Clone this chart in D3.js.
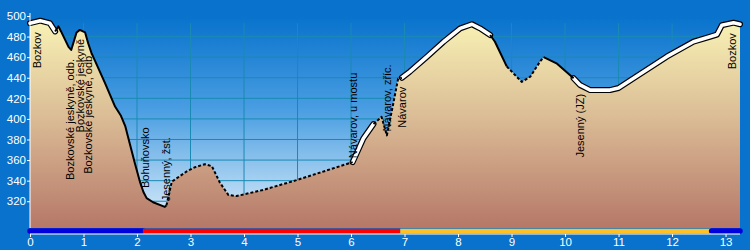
<!DOCTYPE html>
<html>
<head>
<meta charset="utf-8">
<script src="https://d3js.org/d3.v7.min.js"></script>
<style>
    body { margin: 0; background: #0872cc; }
    svg text { font-family: Arial, "Liberation Sans", sans-serif; }
</style>
</head>
<body>
<svg id="chart" width="750" height="250"></svg>
<script>
    // profile: distance in km and elevation in m
    const kms   = [0, 0.19, 0.37, 0.47, 0.53, 0.58, 0.72, 0.77, 0.87, 0.93, 1.03, 1.09, 1.15, 1.40, 1.59, 1.70, 1.78, 1.87, 1.96, 2.06, 2.12, 2.18, 2.30, 2.52,
                   2.55, 2.65, 2.93, 3.08, 3.27, 3.40, 3.55, 3.71, 3.86, 4.36, 4.98, 5.55, 6.03, 6.23, 6.42, 6.57, 6.67, 6.79, 6.88, 6.95,
                   7.10, 7.41, 7.73, 8.04, 8.26, 8.41, 8.60, 8.69, 8.91, 9.19, 9.35, 9.53, 9.60, 9.84, 10.16, 10.28, 10.47, 10.84, 11.0,
                   11.28, 11.9, 12.4, 12.72, 12.84, 12.93, 13.15, 13.27];
    const elevs = [493, 495.5, 493, 485, 490, 485, 470, 467, 484, 486.5, 484, 473, 464, 435, 412, 403, 393, 375, 357, 338, 329, 323, 319, 314.5,
                   316, 339, 349, 353, 356, 354, 338, 326, 325, 331, 340.5, 350, 358, 381, 395, 402, 384, 415, 439, 440,
                   446, 460, 475, 488, 492, 488, 481.5, 475, 451, 436, 441, 455.5, 460, 454, 439.5, 433, 428, 428, 430,
                   439.5, 460.5, 475, 480, 482, 491, 493.5, 492];

    // line type of each stretch (from km, to km)
    const segFrom = [0, 0.47, 2.55, 6.03, 6.42, 6.95, 8.60, 8.91, 9.60, 10.16];
    const segTo   = [0.47, 2.55, 6.03, 6.42, 6.95, 8.60, 8.91, 9.60, 10.16, 13.27];
    const segType = ["road", "path", "dash", "road", "dash", "road", "path", "dash", "path", "road"];

    // surface bar under the profile
    const barFrom  = [0, 2.11, 6.92, 12.74];
    const barTo    = [2.11, 6.92, 12.74, 13.27];
    const barColor = ["#0000dc", "#ff0000", "#ffc125", "#0000dc"];

    // waypoints
    const wpKm   = [0, 0.75, 0.93, 1.08, 2.15, 2.54, 6.04, 6.67, 6.95, 10.28, 13.27];
    const wpName = ["Bozkov", "Bozkovské jeskyně, odb.", "Bozkovské jeskyně", "Bozkovské jeskyně, odb.", "Bohuňovsko",
                    "Jesenný, žst.", "Návarov, u mostu", "Návarov, zříc.", "Návarov", "Jesenný (JZ)", "Bozkov"];

    const xTicks = d3.range(0, 14);
    const yTicks = [320, 340, 360, 380, 400, 420, 440, 460, 480, 500];

    var svg = d3.select("#chart");
    var x = d3.scaleLinear([0, 13.27], [30, 740]);
    var y = d3.scaleLinear([294, 500], [228, 16]);
    var pts = kms.map((k, i) => ({km: k, ele: elevs[i]}));

    var defs = svg.append("defs");
    var sky = defs.append("linearGradient").attr("id", "sky")
        .attr("gradientUnits", "userSpaceOnUse").attr("x1", 0).attr("x2", 0).attr("y1", y(500)).attr("y2", y(294));
    sky.append("stop").attr("offset", 0).attr("stop-color", "#0872cc");
    sky.append("stop").attr("offset", 0.45).attr("stop-color", "#4b9fe2");
    sky.append("stop").attr("offset", 1).attr("stop-color", "#e4f1fb");
    var ground = defs.append("linearGradient").attr("id", "ground")
        .attr("gradientUnits", "userSpaceOnUse").attr("x1", 0).attr("x2", 0).attr("y1", y(500)).attr("y2", y(294));
    ground.append("stop").attr("offset", 0).attr("stop-color", "#faf5b6");
    ground.append("stop").attr("offset", 0.5).attr("stop-color", "#d9b994");
    ground.append("stop").attr("offset", 1).attr("stop-color", "#b67868");

    svg.append("rect").attr("width", 750).attr("height", 250).attr("fill", "#0872cc");
    svg.append("rect")
        .attr("x", x(0)).attr("y", y(500))
        .attr("width", x(13.27) - x(0)).attr("height", y(294) - y(500))
        .attr("fill", "url(#sky)");

    // grid
    svg.append("g").selectAll("line")
        .data(yTicks.filter(v => v < 500))
        .join("line")
        .attr("x1", x(0)).attr("x2", x(13.27))
        .attr("y1", d => y(d)).attr("y2", d => y(d))
        .attr("stroke", "#1a8ab4").attr("stroke-width", 1);
    svg.append("g").selectAll("line")
        .data(xTicks.filter(v => v > 0))
        .join("line")
        .attr("x1", d => x(d)).attr("x2", d => x(d))
        .attr("y1", y(493)).attr("y2", y(294))
        .attr("stroke", "#1a8ab4").attr("stroke-width", 1);

    // terrain
    var area = d3.area().x(d => x(d.km)).y0(y(294)).y1(d => y(d.ele));
    svg.append("path").datum(pts).attr("d", area).attr("fill", "url(#ground)");

    var line = d3.line().x(d => x(d.km)).y(d => y(d.ele));
    var segs = segFrom.map((f, i) => ({type: segType[i], pts: pts.filter(p => p.km >= f && p.km <= segTo[i])}));

    var g = svg.append("g").attr("fill", "none").attr("stroke-linejoin", "round");
    segs.filter(s => s.type == "road").forEach(s => {
        g.append("path").attr("d", line(s.pts)).attr("stroke", "#000").attr("stroke-width", 6).attr("stroke-linecap", "round");
    });
    segs.filter(s => s.type == "road").forEach(s => {
        g.append("path").attr("d", line(s.pts)).attr("stroke", "#fff").attr("stroke-width", 3.6).attr("stroke-linecap", "round");
    });
    segs.filter(s => s.type != "road").forEach(s => {
        g.append("path").attr("d", line(s.pts)).attr("stroke", "#000").attr("stroke-width", 2)
            .attr("stroke-dasharray", s.type == "dash" ? "3,2" : null);
    });

    // surface bar
    svg.append("g").selectAll("line")
        .data(barFrom.map((f, i) => ({from: f, to: barTo[i], c: barColor[i]})))
        .join("line")
        .attr("x1", d => x(d.from)).attr("x2", d => x(d.to))
        .attr("y1", 231).attr("y2", 231)
        .attr("stroke", d => d.c)
        .attr("stroke-width", d => d.c == "#0000dc" ? 5.5 : 4.5)
        .attr("stroke-linecap", d => d.c == "#0000dc" ? "round" : "butt");

    // axes
    var xAxis = svg.append("g").attr("transform", "translate(0,234)")
        .call(d3.axisBottom(x).tickValues(xTicks).tickFormat(d3.format("d")).tickSize(3).tickSizeOuter(0));
    var yAxis = svg.append("g").attr("transform", "translate(" + x(0) + ",0)")
        .call(d3.axisLeft(y).tickValues(yTicks).tickSize(3).tickSizeOuter(0));
    yAxis.select(".domain").attr("d", "M0," + (y(500) - 3) + "V" + y(294));
    xAxis.select(".domain").attr("d", "M" + x(0) + ",0H" + x(13.27));
    [xAxis, yAxis].forEach(a => {
        a.selectAll(".domain, line").attr("stroke", "#fff");
        a.selectAll("text").attr("fill", "#fff").style("font-size", "11.5px").style("font-family", "Arial, 'Liberation Sans', sans-serif");
    });
    xAxis.selectAll("text").attr("dy", "0.55em");
    yAxis.selectAll("text").attr("x", -4);

    // waypoint labels: below the profile if there is room, else above it
    var nearest = k => pts.reduce((a, b) => Math.abs(b.km - k) < Math.abs(a.km - k) ? b : a);
    wpKm.forEach((k, i) => {
        var px = Math.max(37, Math.min(732, x(k)));
        var py = y(nearest(k).ele);
        var t = svg.append("text")
            .attr("font-size", 11).attr("fill", "#000")
            .attr("dy", "0.35em")
            .text(wpName[i]);
        var len = t.node().getComputedTextLength();
        if (py + 9 + len <= 200) {
            t.attr("text-anchor", "end").attr("transform", "translate(" + px + "," + (py + 9) + ") rotate(-90)");
        } else {
            t.attr("text-anchor", "start").attr("transform", "translate(" + px + "," + (py - 4) + ") rotate(-90)");
        }
    });
</script>
</body>
</html>
